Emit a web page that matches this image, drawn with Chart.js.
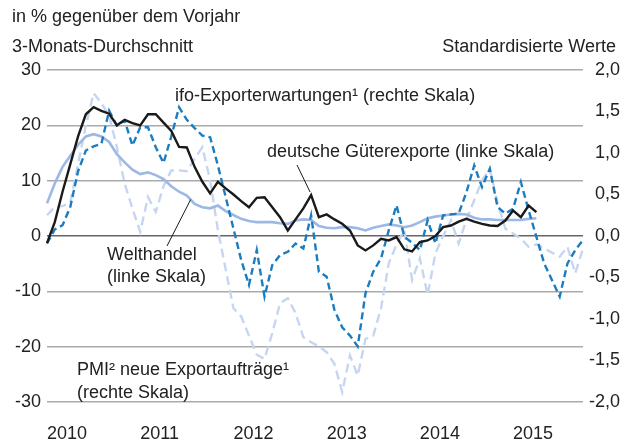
<!DOCTYPE html>
<html>
<head>
<meta charset="utf-8">
<script src="https://cdn.jsdelivr.net/npm/chart.js@4.4.1/dist/chart.umd.min.js"></script>
<style>
  html, body { margin: 0; padding: 0; background: #fff; }
  #wrap { width: 635px; height: 442px; position: relative; }
</style>
</head>
<body>
<div id="wrap"><canvas id="exportChart"></canvas></div>
<script>
const blackColor = '#1a1a1a'
const welthandelColor = '#9db8e4'
const ifoColor = '#1c7cc0'
const pmiColor = '#c6d6f1'
const textColor = '#222'
const fontFamily = '"Liberation Sans", Arial, Helvetica, sans-serif'

// monthly, Jan 2010 onwards
const years = ['2010', '2011', '2012', '2013', '2014', '2015']
const monthCount = 70

// left scale, % yoy, 3-month average
const gueterexporte = [-1.3, 2.5, 8, 13, 18, 22, 23.3, 22.6, 22.1, 20, 21, 20.4, 20, 22, 22, 20.5, 19, 16.1, 16, 12.5,
  9.8, 7.7, 9.8, 8.6, 7.5, 6.3, 5.2, 6.9, 7, 5.2, 3.4, 1, 3, 5, 7.4, 3.4, 3.9, 3, 2.2, 1,
  -1.7, -2.6, -1.7, -0.5, -0.8, -0.2, -2.4, -2.8, -1.1, -0.8, 0, 1.6, 1.9, 2.6, 3.1, 2.6, 2.2, 1.9, 1.8, 2.8,
  4.6, 3.4, 5.5, 4.3]
const welthandel = [5.9, 9.5, 12.5, 14.5, 16.5, 18, 18.4, 18, 17, 14.8, 13.3, 12, 11.2, 11.5, 11, 10.3, 9, 8, 7.3, 5.8,
  5.2, 5, 5.5, 4.5, 3.8, 3.1, 2.7, 2.5, 2.5, 2.5, 2.3, 2.2, 2.8, 3, 2.9, 1.8, 1.5, 1.4, 1.6, 1.6,
  1.4, 1, 1.5, 1.8, 2.1, 1.9, 1.6, 1.9, 2.5, 3.2, 3.5, 3.7, 3.9, 4, 3.9, 3.3, 3, 3, 2.9, 2.9,
  2.9, 2.9, 3.1, 3.2]

// right scale, standardised
const ifoErwartungen = [-0.09, 0.08, 0.13, 0.35, 0.78, 1.03, 1.08, 1.11, 1.51, 1.33,
  1.39, 1.09, 1.31, 1.31, 1.07, 0.88, 1.2, 1.55, 1.40, 1.30,
  1.21, 1.19, 0.85, 0.47, 0.09, -0.29, -0.59, -0.17, -0.73, -0.35,
  -0.23, -0.19, -0.09, -0.15, 0.25, -0.43, -0.49, -0.89, -1.10, -1.20,
  -1.33, -0.69, -0.43, -0.27, 0.07, 0.37, -0.01, -0.08, -0.17, 0.19,
  -0.09, 0.25, 0.26, 0.27, 0.53, 0.85, 0.59, 0.81, 0.35, 0.27,
  0.33, 0.65, 0.31, -0.01, -0.33, -0.53, -0.73, -0.33, -0.17, -0.05]
const pmiExport = [0.25, 0.35, 0.36, 0.40, 0.87, 1.33, 1.72, 1.60, 1.45, 1.07,
  0.63, 0.33, 0.05, 0.47, 0.29, 0.60, 0.79, 0.79, 0.78, 0.93,
  1.07, 0.67, 0.07, -0.40, -0.87, -0.97, -1.20, -1.43, -1.48, -1.17,
  -0.81, -0.75, -0.93, -1.22, -1.28, -1.33, -1.40, -1.54, -1.88, -1.44,
  -1.68, -1.24, -1.20, -0.87, -0.33, -0.10, 0.07, -0.53, -0.27, -0.71,
  -0.21, 0.00, 0.19, -0.09, 0.20, 0.43, 0.67, 0.81, 0.40, 0.09,
  0.03, -0.03, -0.13, -0.10, -0.15, -0.20, -0.25, -0.13, -0.45, -0.15]

var labels = []
for (var i = 0; i < monthCount; i++) {
  labels.push(years[Math.floor(i / 12)] + '-' + (i % 12 + 1))
}

// titles, series labels and pointer lines
const notesPlugin = {
  id: 'notes',
  afterDraw(chart) {
    var ctx = chart.ctx
    var x = chart.scales.x
    var yl = chart.scales.yLeft
    ctx.save()
    ctx.fillStyle = textColor
    ctx.font = '18px ' + fontFamily
    ctx.textBaseline = 'middle'
    ctx.textAlign = 'left'
    ctx.fillText('in % gegenüber dem Vorjahr', 12, 17)
    ctx.fillText('3-Monats-Durchschnitt', 12, 47)
    ctx.textAlign = 'right'
    ctx.fillText('Standardisierte Werte', 616, 47)
    ctx.textAlign = 'left'
    ctx.fillText('ifo-Exporterwartungen¹ (rechte Skala)', 175, 96)
    ctx.fillText('deutsche Güterexporte (linke Skala)', 267, 152)
    ctx.fillText('Welthandel', 107, 255)
    ctx.fillText('(linke Skala)', 107, 277)
    ctx.fillText('PMI² neue Exportaufträge¹', 77, 370)
    ctx.fillText('(rechte Skala)', 77, 393)

    ctx.strokeStyle = blackColor
    ctx.lineWidth = 1
    ctx.beginPath()
    ctx.moveTo(297, 165)
    ctx.lineTo(x.getPixelForValue(34) - 1, yl.getPixelForValue(gueterexporte[34]) - 3)
    ctx.moveTo(167, 246)
    ctx.lineTo(x.getPixelForValue(18.5), yl.getPixelForValue(6.6))
    ctx.stroke()
    ctx.restore()
  }
}

var ctx = document.getElementById('exportChart')
var lineChart = new Chart(ctx, {
  type: 'line',
  data: {
    labels: labels,
    datasets: [{
      label: 'deutsche Güterexporte',
      data: gueterexporte,
      yAxisID: 'yLeft',
      borderColor: blackColor,
      borderWidth: 2.4
    }, {
      label: 'ifo-Exporterwartungen',
      data: ifoErwartungen,
      yAxisID: 'yRight',
      borderColor: ifoColor,
      borderWidth: 2.4,
      borderDash: [7, 4]
    }, {
      label: 'Welthandel',
      data: welthandel,
      yAxisID: 'yLeft',
      borderColor: welthandelColor,
      borderWidth: 2.6
    }, {
      label: 'PMI neue Exportaufträge',
      data: pmiExport,
      yAxisID: 'yRight',
      borderColor: pmiColor,
      borderWidth: 2.4,
      borderDash: [9, 5]
    }]
  },
  options: {
    responsive: true,
    maintainAspectRatio: false,
    animation: false,
    elements: {
      point: { radius: 0 },
      line: { tension: 0, fill: false, borderCapStyle: 'butt', borderJoinStyle: 'miter' }
    },
    layout: { padding: { top: 70, left: 0, right: 15, bottom: 0 } },
    plugins: {
      legend: { display: false },
      tooltip: { enabled: false }
    },
    scales: {
      x: {
        grid: { display: false, drawTicks: false },
        border: { display: false },
        ticks: {
          autoSkip: false,
          maxRotation: 0,
          align: 'start',
          padding: 21,
          color: textColor,
          font: { family: fontFamily, size: 18 },
          callback: function (value, index) {
            return index % 12 === 0 ? years[index / 12] : ''
          }
        },
        afterFit: function (scale) { scale.height = 40 }
      },
      yLeft: {
        position: 'left',
        min: -30,
        max: 30,
        border: { display: false },
        grid: {
          drawTicks: false,
          lineWidth: 1.5,
          color: function (c) { return c.tick && c.tick.value === 0 ? '#666' : '#aaa' }
        },
        ticks: {
          stepSize: 10,
          padding: 6,
          color: textColor,
          font: { family: fontFamily, size: 18 }
        },
        afterFit: function (scale) { scale.width = 47 }
      },
      yRight: {
        position: 'right',
        min: -2,
        max: 2,
        border: { display: false },
        grid: { display: false, drawTicks: false },
        ticks: {
          stepSize: 0.5,
          padding: 6,
          crossAlign: 'far',
          color: textColor,
          font: { family: fontFamily, size: 18 },
          callback: function (value) { return value.toFixed(1).replace('.', ',') }
        },
        afterFit: function (scale) { scale.width = 37 }
      }
    }
  },
  plugins: [notesPlugin]
})
</script>
</body>
</html>
